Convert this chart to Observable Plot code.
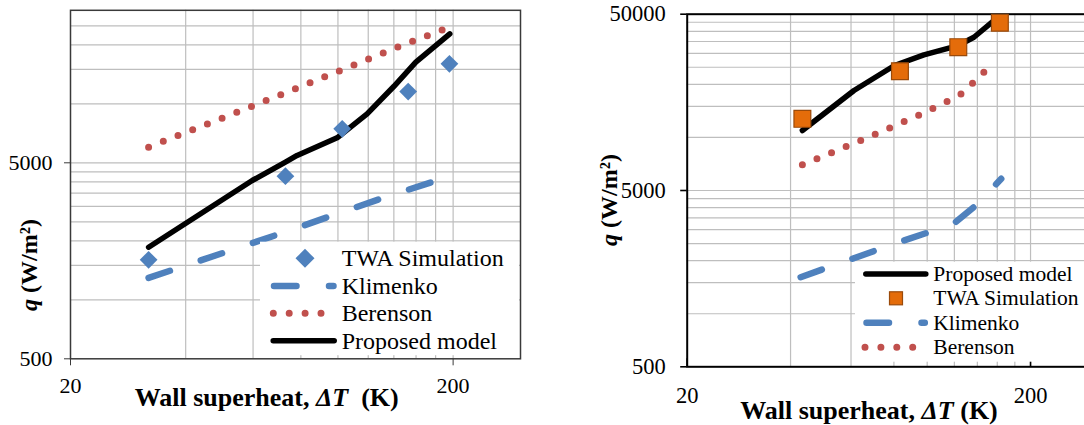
<!DOCTYPE html>
<html><head><meta charset="utf-8">
<script src="https://cdn.jsdelivr.net/npm/d3@7"></script>
<script src="https://cdn.jsdelivr.net/npm/@observablehq/plot@0.6"></script>
<style>
html,body{margin:0;padding:0;background:#fff;overflow:hidden;}
#wrap{position:relative;width:1084px;height:425px;overflow:hidden;background:#fff;}
#left{position:absolute;left:0;top:0;width:540px;height:425px;}
#right{position:absolute;left:560px;top:0;width:560px;height:425px;}
#wrap svg{max-width:none !important;overflow:visible;}
svg text{font-family:"Liberation Serif","Times New Roman",serif;}
</style></head><body><div id="wrap"><div id="left"></div><div id="right"></div></div>
<script>
// ---- tick labels / grid values ----
const xTicks = [20, 200];
const leftYTicks = [500, 5000];
const rightYTicks = [500, 5000, 50000];
const gridX = [40, 60, 80, 100, 120, 140, 160, 180, 200];
const leftGridY = [1000, 1500, 2000, 2500, 3000, 3500, 4000, 4500, 5000, 10000, 15000, 20000, 25000];
const rightGridY = [1000, 1500, 2000, 2500, 3000, 3500, 4000, 4500, 5000, 10000, 15000, 20000, 25000, 30000, 35000, 40000, 45000];

// ---- left panel series (ΔT in K, q in W/m²) ----
const leftTwaT = [32, 72.9, 102.6, 152.6, 195.6];
const leftTwaQ = [1600, 4272, 7455, 11550, 16000];
const leftKlimT = [32, 69.3, 129, 175.5];
const leftKlimQ = [1293, 2147, 3274, 3980];
const leftBerT = [32, 59.7, 101.5, 144.5, 188.4];
const leftBerQ = [6010, 9720, 14790, 19600, 23900];
const leftModelT = [32, 59.7, 72.9, 78.2, 99.5, 119.2, 139.9, 159.8, 196];
const leftModelQ = [1855, 4062, 5035, 5450, 6705, 8890, 12250, 16300, 22750];

// ---- right panel series ----
const rightTwaT = [43.3, 83.3, 123.2, 162.8];
const rightTwaQ = [12750, 23750, 32500, 44700];
const rightModelT = [43.3, 61.2, 80.3, 97.8, 123, 136.8, 156.4, 163];
const rightModelQ = [10950, 18450, 25580, 29400, 33200, 37000, 46000, 47800];
const rightKlimT = [42.8, 60.5, 85.5, 101.1, 120.9, 137.7, 157.4, 164.3];
const rightKlimQ = [1611, 2050, 2602, 2900, 3305, 4073, 5337, 5824];
const rightBerT = [43.3, 64, 94.2, 113.8, 125, 135.3, 145.9, 157.4];
const rightBerQ = [6990, 9600, 13320, 15930, 17520, 20230, 23350, 26950];

const BLUE = "#4F81BD", RED = "#C0504D", ORANGE = "#E46C0A", ORANGE_EDGE = "#9A4A0A", GRID = "#BEBEBE";

const pts = (t, q) => t.map((d, i) => ({t: d, q: q[i]}));
const fmt = d => String(d);

function seriesMarks(s) {
  return [
    Plot.line(pts(s.klimT, s.klimQ), {x: "t", y: "q", stroke: BLUE, strokeWidth: 6.5, strokeDasharray: "22.5,32.5", strokeLinecap: "round"}),
    Plot.line(pts(s.berT, s.berQ), {x: "t", y: "q", stroke: RED, strokeWidth: 7, strokeDasharray: "0,15.8", strokeLinecap: "round"}),
    Plot.line(pts(s.modelT, s.modelQ), {x: "t", y: "q", stroke: "black", strokeWidth: 5.5, strokeLinecap: "round", strokeLinejoin: "round"})
  ];
}

// ---------- LEFT PANEL ----------
const L = {w: 540, h: 425, ml: 70, mr: 20, mt: 9.8, mb: 66.7};
const leftPlot = Plot.plot({
  width: L.w, height: L.h,
  marginLeft: L.ml, marginRight: L.mr, marginTop: L.mt, marginBottom: L.mb,
  style: {fontFamily: "Liberation Serif", fontSize: "22px", background: "white", color: "black", maxWidth: "none"},
  x: {type: "log", domain: [20, 300]},
  y: {type: "log", domain: [500, 30000]},
  marks: [
    Plot.ruleX(gridX, {stroke: GRID, strokeWidth: 1.2}),
    Plot.ruleY(leftGridY, {stroke: GRID, strokeWidth: 1.2}),
    Plot.frame({stroke: "#3a3a3a", strokeWidth: 1.5}),
    Plot.axisX(xTicks, {tickSize: 7, tickPadding: 12, tickFormat: fmt, fontSize: 22, stroke: "#3a3a3a", label: null}),
    Plot.axisY(leftYTicks, {tickSize: 6, tickPadding: 12, tickFormat: fmt, fontSize: 22, stroke: "#3a3a3a", label: null}),
    ...seriesMarks({klimT: leftKlimT, klimQ: leftKlimQ, berT: leftBerT, berQ: leftBerQ, modelT: leftModelT, modelQ: leftModelQ}),
    Plot.dot(pts(leftTwaT, leftTwaQ), {x: "t", y: "q", symbol: "diamond2", r: 8, fill: BLUE, stroke: "none"})
  ]
});
document.getElementById("left").appendChild(leftPlot);

// ---------- RIGHT PANEL ----------
const R = {w: 560, h: 425, ml: 126.7, mr: 29.5, mt: 13.7, mb: 58.7};
const rightPlot = Plot.plot({
  width: R.w, height: R.h,
  marginLeft: R.ml, marginRight: R.mr, marginTop: R.mt, marginBottom: R.mb,
  style: {fontFamily: "Liberation Serif", fontSize: "22px", background: "white", color: "black", maxWidth: "none"},
  x: {type: "log", domain: [20, 300]},
  y: {type: "log", domain: [500, 50000]},
  marks: [
    Plot.ruleX(gridX, {stroke: GRID, strokeWidth: 1.2}),
    Plot.ruleY(rightGridY, {stroke: GRID, strokeWidth: 1.2}),
    Plot.frame({stroke: "black", strokeWidth: 2}),
    Plot.ruleX(xTicks, {stroke: "black", strokeWidth: 1.6, insetTop: (R.h - R.mt - R.mb) - 8}),
    Plot.axisX(xTicks, {tickSize: 0, tickPadding: 20.5, tickFormat: fmt, fontSize: 22.5, label: null}),
    Plot.axisY(rightYTicks, {tickSize: 6.5, tickPadding: 15, tickFormat: fmt, fontSize: 22.5, stroke: "black", strokeWidth: 1.6, label: null}),
    ...seriesMarks({klimT: rightKlimT, klimQ: rightKlimQ, berT: rightBerT, berQ: rightBerQ, modelT: rightModelT, modelQ: rightModelQ}),
    Plot.dot(pts(rightTwaT, rightTwaQ), {x: "t", y: "q", symbol: "square", r: 9.5, fill: ORANGE, stroke: ORANGE_EDGE, strokeWidth: 1.2})
  ]
});
document.getElementById("right").appendChild(rightPlot);

// ---------- legends and titles ----------
function legend(svg, box, rows, fs, textX) {
  const g = d3.select(svg).append("g");
  g.append("rect").attr("x", box[0]).attr("y", box[1]).attr("width", box[2]).attr("height", box[3]).attr("fill", "white");
  rows.forEach(r => {
    if (r.kind === "line") {
      g.append("path").attr("d", `M${r.x1},${r.y}H${r.x2}`).attr("fill", "none")
        .attr("stroke", r.color).attr("stroke-width", r.sw).attr("stroke-linecap", "round")
        .attr("stroke-dasharray", r.dash || null);
    } else if (r.kind === "diamond") {
      const s = r.s;
      g.append("path").attr("d", `M${r.x},${r.y - s}L${r.x + s},${r.y}L${r.x},${r.y + s}L${r.x - s},${r.y}Z`).attr("fill", BLUE);
    } else if (r.kind === "square") {
      const s = r.s;
      g.append("rect").attr("x", r.x - s / 2).attr("y", r.y - s / 2).attr("width", s).attr("height", s)
        .attr("fill", ORANGE).attr("stroke", ORANGE_EDGE).attr("stroke-width", 1.2);
    }
    g.append("text").attr("x", textX).attr("y", r.base).attr("text-anchor", "start")
      .attr("font-size", fs).attr("fill", "black").text(r.label);
  });
}

legend(leftPlot, [260, 241.7, 259, 113.5], [
  {kind: "diamond", x: 305, y: 258.3, s: 9.5, base: 265.5, label: "TWA Simulation"},
  {kind: "line", x1: 274, x2: 333.5, y: 286, color: BLUE, sw: 6.5, dash: "22.5,32.5", base: 293.5, label: "Klimenko"},
  {kind: "line", x1: 273.3, x2: 322, y: 313.3, color: RED, sw: 7, dash: "0,15.9", base: 321, label: "Berenson"},
  {kind: "line", x1: 273.2, x2: 334.2, y: 340.7, color: "black", sw: 5.5, base: 348.5, label: "Proposed model"}
], 24, 341.7);

legend(rightPlot, [295, 261.7, 300, 100], [
  {kind: "line", x1: 305.8, x2: 365.8, y: 274, color: "black", sw: 5.5, base: 280.5, label: "Proposed model"},
  {kind: "square", x: 336, y: 298.3, s: 13, base: 305, label: "TWA Simulation"},
  {kind: "line", x1: 306.5, x2: 364.8, y: 322.7, color: BLUE, sw: 6.5, dash: "22.5,32.5", base: 329.5, label: "Klimenko"},
  {kind: "line", x1: 305, x2: 353, y: 347.3, color: RED, sw: 7, dash: "0,15.9", base: 354, label: "Berenson"}
], 21.5, 373.3);

function yTitle(svg, x, y, fs) {
  const t = d3.select(svg).append("text")
    .attr("transform", `translate(${x},${y}) rotate(-90)`)
    .attr("text-anchor", "middle").attr("dy", "0.35em")
    .attr("font-size", fs).attr("font-weight", "bold").attr("fill", "black");
  t.append("tspan").attr("font-style", "italic").text("q");
  t.append("tspan").text(" (W/m²)");
}
function xTitle(svg, x, base, fs, gap) {
  const t = d3.select(svg).append("text")
    .attr("x", x).attr("y", base).attr("text-anchor", "middle")
    .attr("font-size", fs).attr("font-weight", "bold").attr("fill", "black")
    .style("white-space", "pre");
  t.append("tspan").text("Wall superheat, ");
  t.append("tspan").attr("font-style", "italic").text("ΔT");
  t.append("tspan").text(gap + "(K)");
}
yTitle(leftPlot, 29, 265, 24);
yTitle(rightPlot, 49, 200, 24);
xTitle(leftPlot, 266.7, 406, 26, "  ");
xTitle(rightPlot, 309, 418.5, 26, " ");
</script>
</body></html>
